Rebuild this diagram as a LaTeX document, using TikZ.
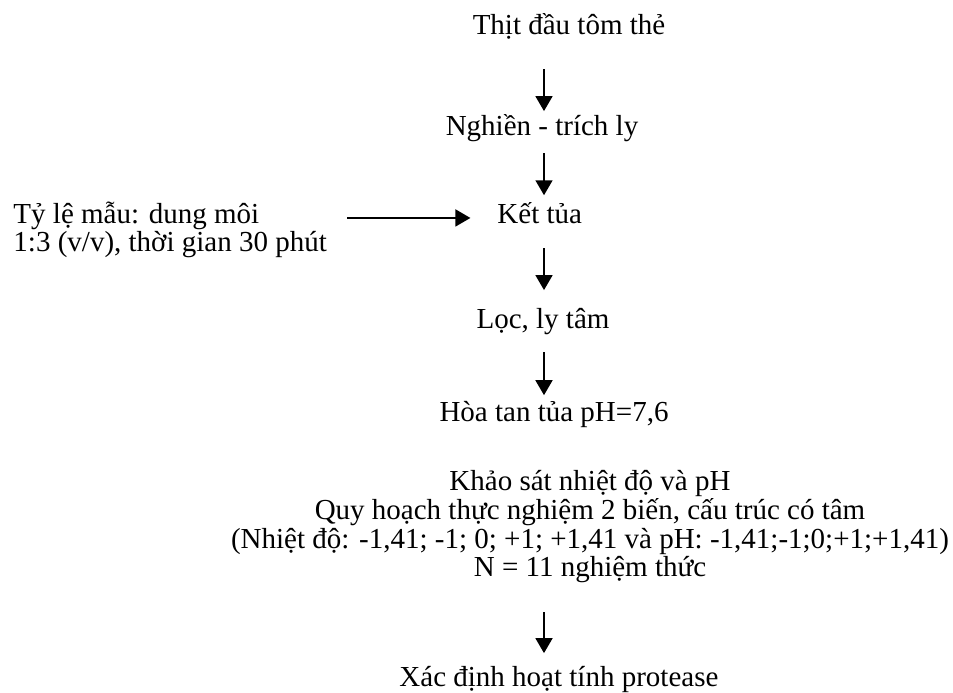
\documentclass[tikz,border=0pt]{standalone}
\usepackage{fontspec}
\setmainfont{Liberation Serif}
\usetikzlibrary{arrows.meta,positioning,calc}

\begin{document}
\begin{tikzpicture}[
x=0.4138pt, y=-0.4138pt,
lbl/.style={inner sep=0pt,text height=0.75em,text depth=0.25em,font=\fontsize{12pt}{12pt}\selectfont},
blk/.style={inner sep=0pt,font=\fontsize{12pt}{11.9pt}\selectfont},
arr/.style={-{Triangle[length=6.2pt,width=7pt]},line width=0.8pt}
]
\useasboundingbox (0,0) rectangle (953,693);
\coordinate (col) at (544,0);

% main column (multi-line nodes sit on their last line)
\node[lbl,anchor=base] (raw) at (569,35) {Thịt đầu tôm thẻ};
\node[lbl,anchor=base] (grind) at (542,136) {Nghiền - trích ly};
\node[lbl,anchor=base west] (ket) at (497,224) {Kết tủa};
\node[blk,anchor=base west,align=left] (ratio) at (13,252) {Tỷ lệ mẫu: dung môi\\
1:3 (v/v), thời gian 30 phút};
\node[lbl,anchor=base] (filt) at (543,329) {Lọc, ly tâm};
\node[lbl,anchor=base] (dis) at (554,422) {Hòa tan tủa pH=7,6};
\node[blk,anchor=base,align=center] (plan) at (590,577) {Khảo sát nhiệt độ và pH\\
Quy hoạch thực nghiệm 2 biến, cấu trúc có tâm\\
(Nhiệt độ: -1,41; -1; 0; +1; +1,41 và pH: -1,41;-1;0;+1;+1,41)\\
N = 11 nghiệm thức};
\node[lbl,anchor=base west] (assay) at (399,686) {Xác định hoạt tính protease};

% arrows
\draw[arr,shorten <=11.5pt,shorten >=2.6pt] (raw.south -| col) -- (grind.north -| col);
\draw[arr,shorten <=4.4pt,shorten >=4.2pt] (grind.south -| col) -- (ket.north -| col);
\draw[arr,shorten <=7.3pt,shorten >=8.4pt] (ket.south -| col) -- (filt.north -| col);
\draw[arr,shorten <=6.9pt,shorten >=3.4pt] (filt.south -| col) -- (dis.north -| col);
\draw[arr,shorten <=11.9pt,shorten >=5.9pt] (plan.south -| col) -- (assay.north -| col);
\draw[arr,shorten <=8.3pt,shorten >=11pt] (ratio.east |- ket.west) -- (ket.west);
\end{tikzpicture}
\end{document}
